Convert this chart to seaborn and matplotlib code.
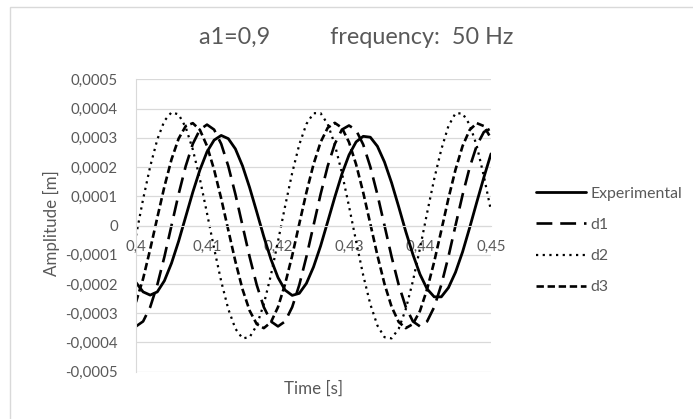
import pandas as pd
import seaborn as sns
import matplotlib.pyplot as plt
from matplotlib.patches import Rectangle

# time axis [s]
time_s = [0.400, 0.401, 0.402, 0.403, 0.404, 0.405, 0.406, 0.407, 0.408, 0.409,
          0.410, 0.411, 0.412, 0.413, 0.414, 0.415, 0.416, 0.417, 0.418, 0.419,
          0.420, 0.421, 0.422, 0.423, 0.424, 0.425, 0.426, 0.427, 0.428, 0.429,
          0.430, 0.431, 0.432, 0.433, 0.434, 0.435, 0.436, 0.437, 0.438, 0.439,
          0.440, 0.441, 0.442, 0.443, 0.444, 0.445, 0.446, 0.447, 0.448, 0.449,
          0.450]

# amplitudes, in units of 1e-4 m
experimental = [-1.95, -2.27, -2.38, -2.27, -1.89, -1.29, -0.54, 0.30, 1.14, 1.90,
                2.52, 2.92, 3.08, 2.97, 2.62, 2.04, 1.30, 0.47, -0.38, -1.15,
                -1.78, -2.21, -2.39, -2.32, -1.98, -1.42, -0.70, 0.13, 0.97, 1.76,
                2.41, 2.86, 3.05, 3.02, 2.71, 2.17, 1.46, 0.64, -0.21, -0.99,
                -1.67, -2.17, -2.44, -2.44, -2.13, -1.60, -0.90, -0.07, 0.80, 1.65,
                2.45]
d1 = [-3.45, -3.28, -2.79, -2.03, -1.07, 0.00, 1.07, 2.03, 2.79, 3.28,
      3.45, 3.28, 2.79, 2.03, 1.07, 0.00, -1.07, -2.03, -2.79, -3.28,
      -3.45, -3.28, -2.79, -2.03, -1.07, 0.00, 1.07, 2.03, 2.79, 3.28,
      3.42, 3.26, 2.77, 2.01, 1.06, 0.00, -1.07, -2.03, -2.79, -3.28,
      -3.45, -3.28, -2.79, -2.03, -1.07, 0.00, 1.05, 1.99, 2.74, 3.20,
      3.32]
d2 = [-0.35, 0.90, 2.02, 2.94, 3.58, 3.87, 3.80, 3.36, 2.60, 1.59,
      0.42, -0.78, -1.91, -2.86, -3.53, -3.86, -3.82, -3.42, -2.69, -1.70,
      -0.54, 0.66, 1.80, 2.77, 3.47, 3.84, 3.84, 3.47, 2.77, 1.80,
      0.66, -0.54, -1.70, -2.69, -3.42, -3.82, -3.86, -3.53, -2.86, -1.90,
      -0.78, 0.43, 1.59, 2.60, 3.40, 3.84, 3.83, 3.45, 2.72, 1.68,
      0.50]
d3 = [-2.62, -1.82, -0.81, 0.27, 1.33, 2.26, 2.97, 3.40, 3.50, 3.27,
      2.72, 1.91, 0.92, -0.16, -1.23, -2.18, -2.91, -3.37, -3.51, -3.31,
      -2.79, -2.00, -1.03, 0.06, 1.13, 2.09, 2.85, 3.34, 3.51, 3.34,
      2.85, 2.09, 1.13, 0.06, -1.02, -2.00, -2.78, -3.30, -3.51, -3.37,
      -2.92, -2.18, -1.24, -0.17, 0.92, 1.91, 2.72, 3.27, 3.50, 3.40,
      2.98]

series_names = ["Experimental", "d1", "d2", "d3"]
series_values = [experimental, d1, d2, d3]
line_styles = ["-", (0, (6, 3)), (0, (1, 2.0)), (0, (2.8, 1.4))]
line_widths = [2.0, 1.9, 1.6, 1.9]

y_ticks = [-0.0005, -0.0004, -0.0003, -0.0002, -0.0001, 0, 0.0001, 0.0002, 0.0003, 0.0004, 0.0005]
y_labels = ["-0,0005", "-0,0004", "-0,0003", "-0,0002", "-0,0001", "0",
            "0,0001", "0,0002", "0,0003", "0,0004", "0,0005"]
x_ticks = [0.40, 0.41, 0.42, 0.43, 0.44, 0.45]
x_labels = ["0,4", "0,41", "0,42", "0,43", "0,44", "0,45"]

sns.set_style("whitegrid", {"grid.color": "#d9d9d9"})
plt.rcParams["font.family"] = ["Lato", "DejaVu Sans"]
grey = "#595959"

fig = plt.figure(figsize=(6.93, 4.19), dpi=100)
ax = fig.add_axes([136 / 693, 1 - 371.7 / 419, 355 / 693, 292.4 / 419])

for name, vals, ls, lw in zip(series_names, series_values, line_styles, line_widths):
    df = pd.DataFrame({"time": time_s, "amplitude": [v * 1e-4 for v in vals]})
    sns.lineplot(data=df, x="time", y="amplitude", ax=ax, color="black",
                 linewidth=lw, linestyle=ls, label=name, legend=False)

ax.set_xlim(0.4, 0.45)
ax.set_ylim(-0.0005, 0.0005)
ax.set_yticks(y_ticks, y_labels)
ax.set_xticks(x_ticks, x_labels)
ax.tick_params(axis="both", length=0, labelsize=10.8, labelcolor=grey)
ax.tick_params(axis="y", pad=13)
ax.tick_params(axis="x", pad=10.5)
ax.grid(axis="x", visible=False)
ax.grid(axis="y", linewidth=0.9)

for side in ["top", "right"]:
    ax.spines[side].set_visible(False)
ax.spines["bottom"].set_position(("data", 0))
ax.spines["left"].set_color("#d9d9d9")
ax.spines["bottom"].set_color("#d9d9d9")

ax.set_xlabel("")
ax.set_ylabel("")
fig.text(313 / 693, 1 - 389 / 419, "Time [s]", ha="center", va="center", fontsize=12.2, color=grey)
fig.text(51 / 693, 1 - 223 / 419, "Amplitude [m]", ha="center", va="center",
         rotation=90, fontsize=12.2, color=grey)
fig.text(199 / 693, 1 - 37 / 419, "a1=0,9          frequency:  50 Hz", ha="left", va="center",
         fontsize=16.8, color=grey)

handles, labels = ax.get_legend_handles_labels()
fig.legend(handles, labels, loc="center left", bbox_to_anchor=(536 / 693, 1 - 240.5 / 419),
           frameon=False, fontsize=11.4, labelcolor=grey, handlelength=3.16,
           handletextpad=0.3, labelspacing=1.07, borderpad=0, borderaxespad=0)

fig.patches.append(Rectangle((9.5 / 693, -0.05), 1.2, 1.05 - 7.5 / 419, transform=fig.transFigure,
                             fill=False, edgecolor="#d9d9d9", linewidth=1.0))

fig.savefig("out.png", dpi=100)
